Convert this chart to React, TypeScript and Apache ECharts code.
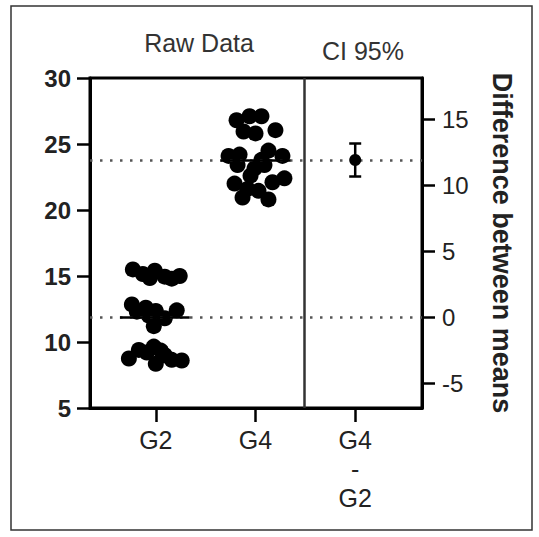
import React, { useEffect, useRef } from "react";
import * as echarts from "echarts";

// Category labels (x positions 1, 2, 3)
const groupLabels = ["G2", "G4", "G4\n-\nG2"];
const groupPositions = [1, 2, 3];

// Raw data (value, and horizontal swarm offset in category units)
const g2Values = [
  15.5, 15.15, 14.85, 15.4, 14.95, 14.8, 15.0,
  12.85, 12.3, 12.6, 12.0, 12.35, 11.2, 11.8, 12.4,
  8.75, 9.4, 9.2, 9.65, 8.35, 9.0, 8.65, 8.6, 9.35,
];
const g2Offsets = [
  -0.23, -0.13, -0.06, -0.01, 0.09, 0.16, 0.24,
  -0.24, -0.19, -0.1, -0.07, 0.0, -0.02, 0.09, 0.21,
  -0.27, -0.17, -0.09, -0.02, 0.0, 0.09, 0.16, 0.26, 0.05,
];
const g4Values = [
  26.8, 27.1, 27.1, 25.95, 25.8, 26.05,
  24.1, 24.2, 23.4, 23.15, 23.8, 24.5, 24.1, 23.4,
  22.0, 21.6, 21.45, 22.1, 22.4, 20.95, 20.8, 22.6,
];
const g4Offsets = [
  -0.19, -0.06, 0.06, -0.12, 0.0, 0.2,
  -0.27, -0.16, -0.18, -0.01, 0.06, 0.13, 0.27, 0.09,
  -0.21, -0.08, 0.03, 0.17, 0.29, -0.13, 0.13, -0.05,
];

// 95% confidence interval of the difference between means
const ciLower = 10.7;
const ciUpper = 13.2;

const leftTicks = [5, 10, 15, 20, 25, 30];
const rightTicks = [-5, 0, 5, 10, 15];

const mean = (a: number[]) => a.reduce((s, v) => s + v, 0) / a.length;

export default function App() {
  const ref = useRef<HTMLDivElement>(null);

  useEffect(() => {
    if (!ref.current) return;
    const chart = echarts.init(ref.current, undefined, { renderer: "svg" });

    const m2 = mean(g2Values);
    const m4 = mean(g4Values);
    const diff = m4 - m2;
    const leftMin = leftTicks[0];
    const leftMax = leftTicks[leftTicks.length - 1];

    const g2Data = g2Values.map((v, i) => [groupPositions[0] + g2Offsets[i], v]);
    const g4Data = g4Values.map((v, i) => [groupPositions[1] + g4Offsets[i], v]);

    const textColor = "#222";
    const font = "Liberation Sans, Arial, sans-serif";
    const dotted = { color: "#555", width: 2.5, type: [2.5, 7.5] };

    chart.setOption({
      animation: false,
      backgroundColor: "#fff",
      grid: {
        left: 90,
        right: 117,
        top: 78,
        bottom: 129,
        show: true,
        borderColor: "#000",
        borderWidth: 3,
        backgroundColor: "transparent",
      },
      xAxis: {
        type: "value",
        min: 0.34,
        max: 3.67,
        axisLine: { show: true, onZero: false, lineStyle: { color: "#000", width: 3 } },
        axisTick: {
          show: true,
          customValues: groupPositions,
          length: 14,
          lineStyle: { color: "#000", width: 2.5 },
        },
        axisLabel: {
          customValues: groupPositions,
          formatter: (v: number) => groupLabels[groupPositions.indexOf(Math.round(v))] ?? "",
          fontSize: 25,
          fontFamily: font,
          color: textColor,
          margin: 17,
          lineHeight: 29,
        },
        splitLine: { show: false },
      },
      yAxis: [
        {
          type: "value",
          position: "left",
          min: leftMin,
          max: leftMax,
          interval: 5,
          axisLine: { show: true, onZero: false, lineStyle: { color: "#000", width: 3 } },
          axisTick: { show: true, length: 13, lineStyle: { color: "#000", width: 2.5 } },
          axisLabel: {
            fontSize: 24,
            fontWeight: "bold",
            fontFamily: font,
            color: textColor,
            margin: 19,
          },
          splitLine: { show: false },
        },
        {
          type: "value",
          position: "right",
          min: leftMin - m2,
          max: leftMax - m2,
          axisLine: { show: true, onZero: false, lineStyle: { color: "#000", width: 3 } },
          axisTick: {
            show: true,
            customValues: rightTicks,
            length: 13,
            lineStyle: { color: "#000", width: 2.5 },
          },
          axisLabel: {
            customValues: rightTicks,
            fontSize: 24,
            fontFamily: font,
            color: textColor,
            margin: 20,
          },
          splitLine: { show: false },
          name: "Difference between means",
          nameLocation: "middle",
          nameRotate: -90,
          nameGap: 66,
          nameTextStyle: {
            fontSize: 27,
            fontWeight: "bold",
            fontFamily: font,
            color: textColor,
          },
        },
      ],
      graphic: [
        {
          type: "rect",
          shape: { x: 11, y: 6, width: 521, height: 524 },
          style: { fill: "none", stroke: "#333", lineWidth: 1.5 },
          silent: true,
        },
        {
          type: "text",
          x: 199,
          y: 43,
          style: {
            text: "Raw Data",
            fontSize: 25,
            fontFamily: font,
            fill: "#333",
            textAlign: "center",
            textVerticalAlign: "middle",
          },
        },
        {
          type: "text",
          x: 363,
          y: 51,
          style: {
            text: "CI 95%",
            fontSize: 25,
            fontFamily: font,
            fill: "#333",
            textAlign: "center",
            textVerticalAlign: "middle",
          },
        },
      ],
      series: [
        {
          type: "line",
          data: [],
          silent: true,
          markLine: {
            silent: true,
            symbol: "none",
            label: { show: false },
            data: [
              { yAxis: m2, lineStyle: dotted },
              { yAxis: m4, lineStyle: dotted },
              { xAxis: 2.49, lineStyle: { color: "#333", width: 2.5, type: "solid" } },
              [
                { coord: [groupPositions[0] - 0.36, m2], lineStyle: { color: "#000", width: 2.5, type: "solid" } },
                { coord: [groupPositions[0] + 0.34, m2] },
              ],
              [
                { coord: [groupPositions[1] - 0.35, m4], lineStyle: { color: "#000", width: 2.5, type: "solid" } },
                { coord: [groupPositions[1] + 0.35, m4] },
              ],
            ],
          },
        },
        {
          type: "scatter",
          symbol: "circle",
          symbolSize: 16,
          itemStyle: { color: "#000", opacity: 1 },
          data: g2Data,
          z: 3,
        },
        {
          type: "scatter",
          symbol: "circle",
          symbolSize: 16,
          itemStyle: { color: "#000", opacity: 1 },
          data: g4Data,
          z: 3,
        },
        {
          type: "custom",
          yAxisIndex: 1,
          z: 4,
          data: [[groupPositions[2], ciLower, ciUpper]],
          encode: { x: 0, y: [1, 2] },
          renderItem: (params: any, api: any) => {
            const x = api.value(0);
            const pLo = api.coord([x, api.value(1)]);
            const pHi = api.coord([x, api.value(2)]);
            const cap = 6;
            const st = { stroke: "#000", lineWidth: 2.5 };
            return {
              type: "group",
              children: [
                { type: "line", shape: { x1: pLo[0], y1: pLo[1], x2: pHi[0], y2: pHi[1] }, style: st },
                { type: "line", shape: { x1: pLo[0] - cap, y1: pLo[1], x2: pLo[0] + cap, y2: pLo[1] }, style: st },
                { type: "line", shape: { x1: pHi[0] - cap, y1: pHi[1], x2: pHi[0] + cap, y2: pHi[1] }, style: st },
              ],
            };
          },
        },
        {
          type: "scatter",
          yAxisIndex: 1,
          symbol: "circle",
          symbolSize: 12,
          itemStyle: { color: "#000", opacity: 1 },
          data: [[groupPositions[2], diff]],
          z: 5,
        },
      ],
    });

    return () => chart.dispose();
  }, []);

  return (
    <div
      ref={ref}
      style={{ position: "fixed", left: 0, top: 0, width: 539, height: 537, background: "#fff" }}
    />
  );
}
